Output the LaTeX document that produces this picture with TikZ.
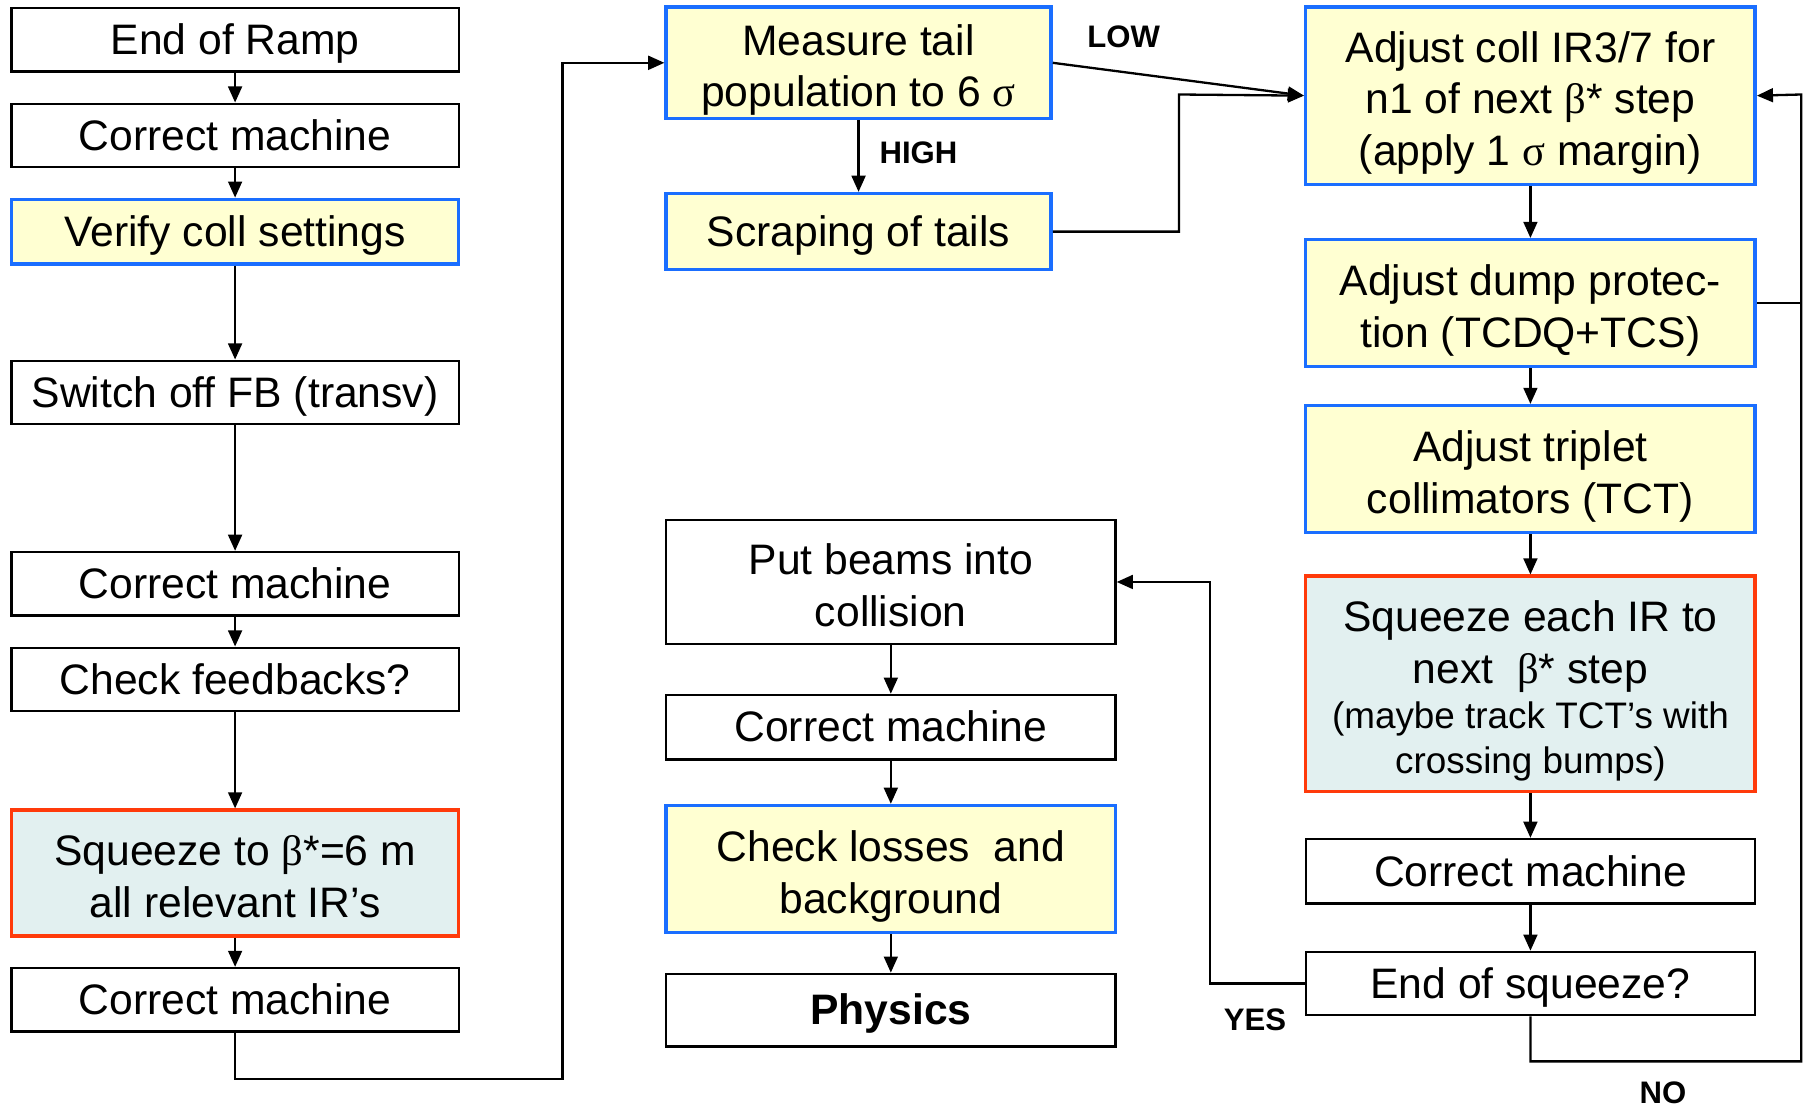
\documentclass[tikz,border=0pt]{standalone}
\usepackage{fontspec}
\setmainfont{Liberation Sans}
\newfontfamily\grk{Liberation Serif}
\usetikzlibrary{arrows.meta}
\definecolor{yfill}{HTML}{FFFFD2}
\definecolor{bedge}{HTML}{1A6EFF}
\definecolor{redge}{HTML}{FF3A0A}
\definecolor{cfill}{HTML}{E2F0F0}
\newcommand\fst{\rule{0pt}{\dimexpr0.905em+6pt\relax}}
\newcommand\lst{\rule[-0.212em]{0pt}{0.212em}}
\newcommand\sgl{\rule[-0.212em]{0pt}{1.117em}}
\tikzset{
  base/.style={rectangle, inner sep=2pt, align=center, font=\fontsize{37}{45}\selectfont, text=black},
  wbox/.style={base, draw=black, line width=2pt, fill=white},
  ybox/.style={base, draw=bedge, line width=3pt, fill=yfill},
  rbox/.style={base, draw=redge, line width=3pt, fill=cfill},
  conn/.style={line width=2pt, draw=black},
  arr/.style={conn, -{Triangle[length=14pt,width=12pt]}},
  lbl/.style={font=\fontsize{27}{30}\selectfont\bfseries, inner sep=0pt}
}
\begin{document}
\begin{tikzpicture}[x=1pt,y=-1pt]
\useasboundingbox (0,0) rectangle (1568,960);
% left column
\node[wbox, minimum width=388pt, minimum height=55pt] (eor) at (204,34.5) {\sgl End of Ramp};
\node[wbox, minimum width=388pt, minimum height=55pt] (cm1) at (204,117.5) {\sgl Correct machine};
\node[ybox, minimum width=388pt, minimum height=56pt] (ver) at (204,201) {\sgl Verify coll settings};
\node[wbox, minimum width=388pt, minimum height=55pt] (swo) at (204,340.5) {\sgl Switch off FB (transv)};
\node[wbox, minimum width=388pt, minimum height=55pt] (cm2) at (204,506.5) {\sgl Correct machine};
\node[wbox, minimum width=388pt, minimum height=55pt] (chk) at (204,589.5) {\sgl Check feedbacks?};
\node[rbox, minimum width=388pt, minimum height=109pt] (sqz) at (204,757.5) {\fst Squeeze to {\grk β}*=6 m\\all relevant IR’s\lst};
\node[wbox, minimum width=388pt, minimum height=55pt] (cm3) at (204,867.5) {\sgl Correct machine};
% middle top
\node[ybox, minimum width=334pt, minimum height=97pt] (meas) at (745,54.5) {\fst Measure tail\\population to 6 {\grk σ}\lst};
\node[ybox, minimum width=334pt, minimum height=66pt] (scr) at (745,201) {\sgl Scraping of tails};
% middle bottom
\node[wbox, minimum width=390pt, minimum height=108pt] (put) at (773,505) {\fst Put beams into\\collision\lst};
\node[wbox, minimum width=390pt, minimum height=56pt] (cm4) at (773,631) {\sgl Correct machine};
\node[ybox, minimum width=390pt, minimum height=110pt] (los) at (773,754) {\fst Check losses\ \ and\\background\lst};
\node[wbox, minimum width=390pt, minimum height=63pt] (phy) at (773,876.5) {\bfseries\sgl Physics};
% right column
\node[ybox, minimum width=390pt, minimum height=154pt] (adj) at (1328,83) {\fst Adjust coll IR3/7 for\\n1 of next {\grk β}* step\\(apply 1 {\grk σ} margin)\lst};
\node[ybox, minimum width=390pt, minimum height=110pt] (dmp) at (1328,263) {\fst Adjust dump protec-\\tion (TCDQ+TCS)\lst};
\node[ybox, minimum width=390pt, minimum height=110pt] (tri) at (1328,407) {\fst Adjust triplet\\collimators (TCT)\lst};
\node[rbox, minimum width=390pt, minimum height=187pt] (sqe) at (1328,593.5) {\fst Squeeze each IR to\\next\ \ {\grk β}* step\\[-6pt]{\fontsize{32}{39}\selectfont (maybe track TCT’s with}\\[-6pt]{\fontsize{32}{39}\selectfont crossing bumps)\lst}};
\node[wbox, minimum width=390pt, minimum height=56pt] (cm5) at (1328,756) {\sgl Correct machine};
\node[wbox, minimum width=390pt, minimum height=55pt] (eos) at (1328,853.5) {\sgl End of squeeze?};
% coordinates
\coordinate (c1) at (204,936);
\coordinate (c2) at (488,936);
\coordinate (c3) at (488,54.5);
\coordinate (s1) at (1023,201);
\coordinate (s2) at (1023,82);
\coordinate (n1) at (1328,921);
\coordinate (n2) at (1563,921);
\coordinate (n3) at (1563,82);
\coordinate (d1) at (1563,263);
\coordinate (y1) at (1050,853.5);
\coordinate (y2) at (1050,505);
% left connectors
\draw[arr] (eor) -- (cm1);
\draw[arr] (cm1) -- (ver);
\draw[arr] (ver) -- (swo);
\draw[arr] (swo) -- (cm2);
\draw[arr] (cm2) -- (chk);
\draw[arr] (chk) -- (sqz);
\draw[arr] (sqz) -- (cm3);
\draw[arr] (cm3.south) -- (c1) -- (c2) -- (c3) -- (meas.west);
% middle
\draw[arr] (meas) -- (scr);
\draw[arr] (meas.east) -- (adj.west);
\draw[arr] (scr.east) -- (s1) -- (s2) -- (adj.west);
\draw[arr] (put) -- (cm4);
\draw[arr] (cm4) -- (los);
\draw[arr] (los) -- (phy);
% right
\draw[arr] (adj) -- (dmp);
\draw[arr] (dmp) -- (tri);
\draw[arr] (tri) -- (sqe);
\draw[arr] (sqe) -- (cm5);
\draw[arr] (cm5) -- (eos);
\draw[arr] (eos.south) -- (n1) -- (n2) -- (n3) -- (adj.east);
\draw[conn] (dmp.east) -- (d1);
\draw[arr] (eos.west) -- (y1) -- (y2) -- (put.east);
% labels
\node[lbl] (low) at (975,32) {LOW};
\node[lbl] (high) at (797,133) {HIGH};
\node[lbl] (yes) at (1089,885) {YES};
\node[lbl] (no) at (1443,948) {NO};
\end{tikzpicture}
\end{document}
